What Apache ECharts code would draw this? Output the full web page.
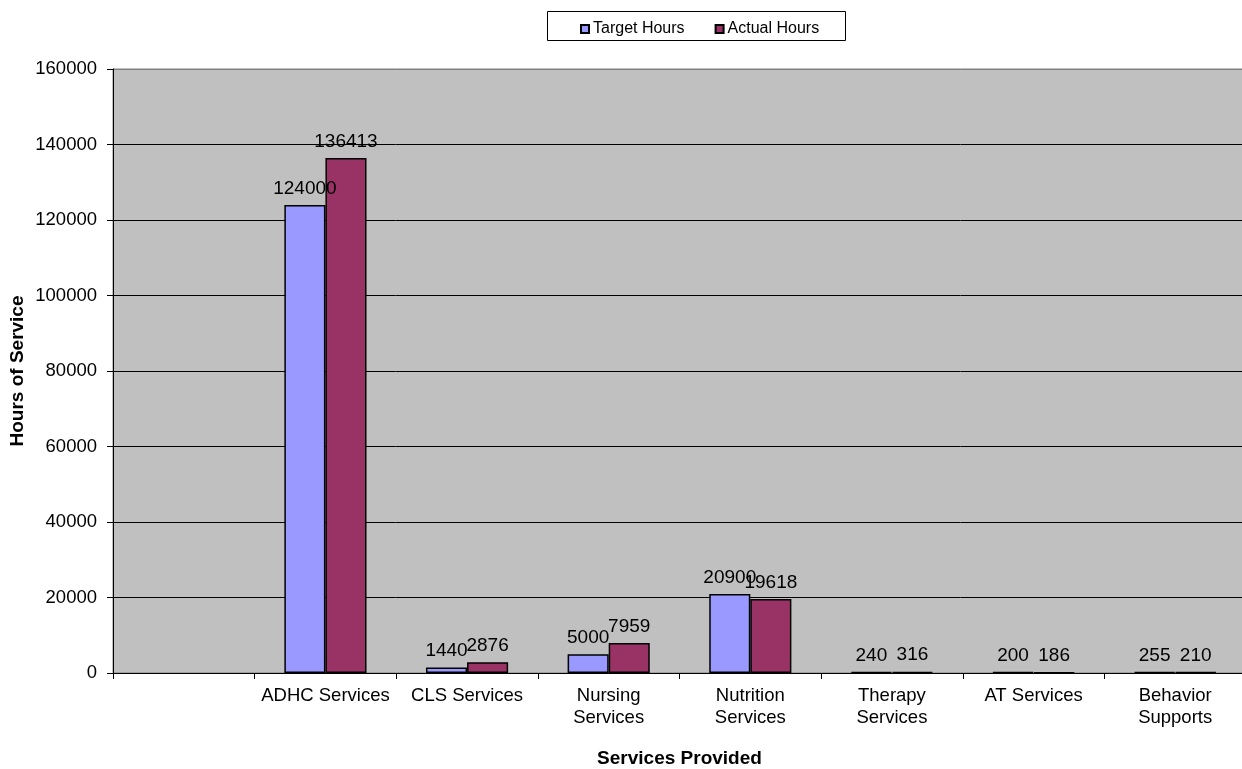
<!DOCTYPE html>
<html>
<head>
<meta charset="utf-8">
<script src="https://cdn.jsdelivr.net/npm/echarts@6/dist/echarts.min.js"></script>
<style>
html,body{margin:0;padding:0;background:#fff;}
#chart{width:1242px;height:769px;}
</style>
</head>
<body>
<div id="chart"></div>
<script>
const categories = ['', 'ADHC Services', 'CLS Services', 'Nursing\nServices', 'Nutrition\nServices', 'Therapy\nServices', 'AT Services', 'Behavior\nSupports'];
const targetHours = [null, 124000, 1440, 5000, 20900, 240, 200, 255];
const actualHours = [null, 136413, 2876, 7959, 19618, 316, 186, 210];
const seriesNames = ['Target Hours', 'Actual Hours'];
const yTicks = { min: 0, max: 160000, interval: 20000 };

const chart = echarts.init(document.getElementById('chart'));
const font = 'Liberation Sans, Arial, sans-serif';
const labelCfg = { show: true, position: 'top', distance: 7, color: '#000', fontSize: 19, fontFamily: font };

chart.setOption({
  animation: false,
  textStyle: { fontFamily: font },
  graphic: [{
    type: 'rect', left: 547, top: 11, shape: { width: 298, height: 29 },
    style: { fill: '#fff', stroke: '#000', lineWidth: 1 }, z: 0
  }],
  legend: {
    top: 16, left: 575, itemWidth: 8, itemHeight: 8, itemGap: 30,
    icon: 'rect',
    textStyle: { fontSize: 16, color: '#000', fontFamily: font, padding: [0, 0, 0, -1] },
    data: seriesNames, z: 5
  },
  grid: {
    left: 113, right: -4, top: 69, bottom: 96,
    outerBoundsMode: 'none', containLabel: false,
    show: true, backgroundColor: '#C0C0C0', borderColor: '#808080', borderWidth: 1
  },
  xAxis: {
    type: 'category', data: categories,
    name: 'Services Provided', nameLocation: 'middle', nameGap: 76, nameMoveOverlap: false,
    nameTextStyle: { fontSize: 19, fontWeight: 'bold', color: '#000', fontFamily: font },
    axisLine: { lineStyle: { color: '#000', width: 1 } },
    axisTick: { show: true, length: 6, lineStyle: { color: '#000' } },
    axisLabel: { color: '#000', fontSize: 18.5, margin: 12, lineHeight: 22, fontFamily: font, interval: 0 }
  },
  yAxis: {
    type: 'value', min: yTicks.min, max: yTicks.max, interval: yTicks.interval,
    name: 'Hours of Service', nameLocation: 'middle', nameGap: 95, nameMoveOverlap: false,
    nameTextStyle: { fontSize: 19, fontWeight: 'bold', color: '#000', fontFamily: font, verticalAlign: 'middle' },
    axisLine: { show: true, lineStyle: { color: '#000', width: 1 } },
    axisTick: { show: true, length: 6, lineStyle: { color: '#000' } },
    axisLabel: { color: '#000', fontSize: 18.5, margin: 16, fontFamily: font, formatter: v => String(v) },
    splitLine: { show: true, lineStyle: { color: ['#000','#000','#000','#000','#000','#000','#000','#000','#808080'], width: 1 } }
  },
  series: [
    {
      name: seriesNames[0], type: 'bar', data: targetHours,
      barGap: '0%', barCategoryGap: '42%',
      itemStyle: { color: '#9999FF', borderColor: '#000', borderWidth: 1.5 },
      label: labelCfg
    },
    {
      name: seriesNames[1], type: 'bar', data: actualHours,
      barGap: '0%', barCategoryGap: '42%',
      itemStyle: { color: '#993366', borderColor: '#000', borderWidth: 1.5 },
      label: labelCfg
    }
  ]
});
</script>
</body>
</html>
